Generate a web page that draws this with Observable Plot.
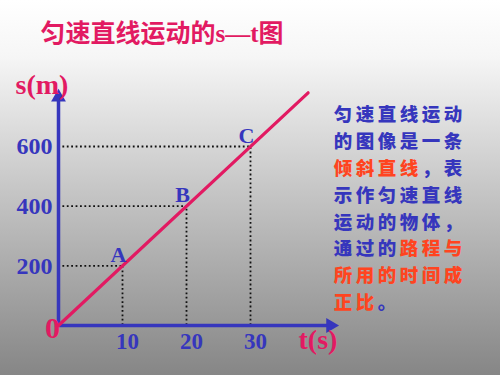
<!DOCTYPE html>
<html>
<head>
<meta charset="utf-8">
<script src="https://cdn.jsdelivr.net/npm/d3@7"></script>
<script src="https://cdn.jsdelivr.net/npm/@observablehq/plot@0.6"></script>
<style>
  html, body { margin: 0; padding: 0; background: #c0c0c0; }
  #chart { width: 500px; height: 375px; }
</style>
</head>
<body>
<div id="chart"></div>
<script>
// ---- data ----
const titleText = "匀速直线运动的s—t图";
const yAxisLabel = "s(m)";
const xAxisLabel = "t(s)";
const originLabel = "0";
const pointNames = ["A", "B", "C"];
const pointTimes = [10, 20, 30];        // t (s)
const pointDistances = [200, 400, 600]; // s (m)
const xTickValues = [10, 20, 30];
const yTickValues = [200, 400, 600];
const lineTimes = [0, 39];
const lineDistances = [0, 780];
const axisMaxT = 44;
const axisMaxS = 790;
const noteLines = ["匀速直线运动", "的图像是一条", "倾斜直线，表", "示作匀速直线", "运动的物体，", "通过的路程与", "所用的时间成", "正比。"];
const noteHighlights = ["倾斜直线", "路程与", "所用的时间成", "正比"];

// ---- derived tables ----
const points = pointNames.map((n, i) => ({name: n, t: pointTimes[i], s: pointDistances[i]}));
const linePts = lineTimes.map((t, i) => ({t, s: lineDistances[i]}));

const BLUE = "#3636bd";
const MAGENTA = "#e21a62";
const NOTE_RED = "#ff4420";
const SERIF = "'Liberation Serif', 'Times New Roman', 'Noto Sans CJK SC', serif";
const CJK = "'Noto Sans CJK SC', sans-serif";

// note characters (each positioned on a fixed grid, coloured by highlight)
const noteChars = [];
noteLines.forEach((line, li) => {
  const chars = Array.from(line);
  const red = chars.map(() => false);
  noteHighlights.forEach(h => {
    let idx = line.indexOf(h);
    while (idx >= 0) { for (let k = 0; k < h.length; k++) red[idx + k] = true; idx = line.indexOf(h, idx + 1); }
  });
  chars.forEach((ch, c) => noteChars.push({line: li, col: c, ch, red: red[c]}));
});

const noteMarks = noteChars.map(r => Plot.text([r], {
  text: d => d.ch,
  frameAnchor: "top-left",
  dx: 332 + r.col * 22 + 10.5,
  dy: 115 + r.line * 26.8,
  textAnchor: "middle",
  lineAnchor: "middle",
  fill: r.red ? NOTE_RED : BLUE,
  fontSize: 18.5,
  fontWeight: 900,
  fontFamily: CJK
}));

const chart = Plot.plot({
  width: 500,
  height: 375,
  margin: 0,
  x: {domain: [0, 30], range: [58, 250], axis: null},
  y: {domain: [0, 600], range: [325, 146], axis: null},
  style: {background: "linear-gradient(to bottom, #ffffff 0%, #f6f6f6 15%, #c4c4c4 52%, #868686 100%)", overflow: "visible"},
  marks: [
    // dotted guides
    Plot.ruleY(points, {y: "s", x1: 0, x2: "t", stroke: "#111", strokeWidth: 1.8, strokeDasharray: "1.8,2.6"}),
    Plot.ruleX(points, {x: "t", y1: 0, y2: "s", stroke: "#111", strokeWidth: 1.8, strokeDasharray: "1.8,2.6"}),
    // axes
    Plot.ruleY([0], {x1: 0, x2: axisMaxT - 1.5, stroke: BLUE, strokeWidth: 3.5}),
    Plot.ruleX([0], {y1: 0, y2: axisMaxS - 25, stroke: BLUE, strokeWidth: 3.5}),
    Plot.dot([{t: 0, s: axisMaxS - 25}], {x: "t", y: "s", symbol: "triangle", r: 5.5, fill: BLUE, stroke: null}),
    Plot.dot([{t: axisMaxT - 1.5, s: 0}], {x: "t", y: "s", symbol: "triangle", r: 5.5, rotate: 90, fill: BLUE, stroke: null}),
    // s-t line
    Plot.line(linePts, {x: "t", y: "s", stroke: MAGENTA, strokeWidth: 3.2}),
    // tick labels
    Plot.text(xTickValues, {x: d => d, y: 0, text: d => String(d), dx: 5, dy: 16, lineAnchor: "middle", fill: BLUE, fontSize: 23, fontWeight: "bold", fontFamily: SERIF}),
    Plot.text(yTickValues, {x: 0, y: d => d, text: d => String(d), dx: -6, textAnchor: "end", lineAnchor: "middle", fill: BLUE, fontSize: 24, fontWeight: "bold", fontFamily: SERIF}),
    Plot.text([originLabel], {x: 0, y: 0, text: d => d, dx: -6, dy: 3, lineAnchor: "middle", fill: MAGENTA, fontSize: 30, fontWeight: "bold", fontFamily: SERIF}),
    // point labels
    Plot.text(points, {x: "t", y: "s", text: "name", dx: -4, dy: -11, lineAnchor: "middle", fill: BLUE, fontSize: 22, fontWeight: "bold", fontFamily: SERIF}),
    // axis labels
    Plot.text([yAxisLabel], {frameAnchor: "top-left", text: d => d, dx: 15, dy: 93, textAnchor: "start", lineAnchor: "bottom", fill: MAGENTA, fontSize: 28, fontWeight: "bold", fontFamily: SERIF}),
    Plot.text([xAxisLabel], {frameAnchor: "top-left", text: d => d, dx: 298, dy: 348, textAnchor: "start", lineAnchor: "bottom", fill: MAGENTA, fontSize: 28, fontWeight: "bold", fontFamily: SERIF}),
    // title
    Plot.text([titleText], {frameAnchor: "top-left", text: d => d, dx: 40, dy: 41, textAnchor: "start", lineAnchor: "bottom", fill: MAGENTA, fontSize: 25, fontWeight: "bold", fontFamily: SERIF}),
    ...noteMarks
  ]
});

document.getElementById("chart").appendChild(chart);
</script>
</body>
</html>
